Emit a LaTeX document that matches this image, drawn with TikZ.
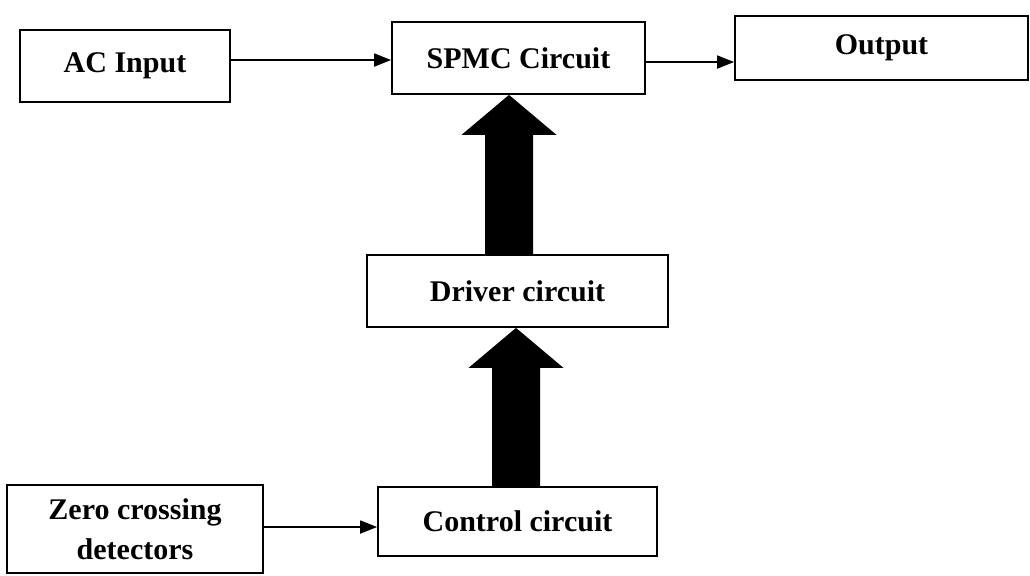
\documentclass[tikz,border=0pt]{standalone}
\usepackage{fontspec}
\setmainfont{Liberation Serif}
\usetikzlibrary{arrows.meta,calc}
\tikzset{
  blk/.style={draw, line width=0.9pt, inner sep=0pt, align=center,
    font=\bfseries\fontsize{15}{20}\selectfont},
  flow/.style={line width=0.9pt, -{Triangle[length=8.5pt,width=6.5pt]}}
}
% wide block arrow from anchor #1 up to anchor #2, shifted sideways by #3
\newcommand\blockarrow[3]{%
  \path[fill=black] let \p1=(#1), \p2=(#2) in
    (\x1+#3-12pt,\y1) -- (\x1+#3-12pt,\y2-20pt) -- (\x1+#3-23.75pt,\y2-20pt)
    -- (\x1+#3,\y2) -- (\x1+#3+23.75pt,\y2-20pt) -- (\x1+#3+12pt,\y2-20pt)
    -- (\x1+#3+12pt,\y1) -- cycle;}
\begin{document}
\begin{tikzpicture}[x=0.5pt,y=-0.5pt]
\useasboundingbox (0,0) rectangle (1030,575);

\node[blk, minimum width=105pt, minimum height=36pt] (ac) at (125,66) {AC Input};
\node[blk, minimum width=126.5pt, minimum height=36pt] (spmc) at (518.5,58) {SPMC Circuit};
\node[blk, minimum width=146.5pt, minimum height=32pt] (out) at (881.5,48) {Output};
\node[blk, minimum width=150.5pt, minimum height=36pt] (drv) at (517.5,291) {Driver circuit};
\node[blk, minimum width=139.5pt, minimum height=34.5pt] (ctl) at (517.5,521.5) {Control circuit};
\node[blk, minimum width=128pt, minimum height=44pt] (zcd) at (135,529) {Zero crossing\\detectors};

\draw[flow] ([yshift=3pt]ac.east) -- ([yshift=3pt]ac.east -| spmc.west);
\draw[flow] ([yshift=-2pt]spmc.east) -- ([yshift=-2pt]spmc.east -| out.west);
\draw[flow] ([yshift=1pt]zcd.east) -- ([yshift=1pt]zcd.east -| ctl.west);

\blockarrow{drv.north}{spmc.south}{-4.25pt}
\blockarrow{ctl.north}{drv.south}{-0.75pt}
\end{tikzpicture}
\end{document}
